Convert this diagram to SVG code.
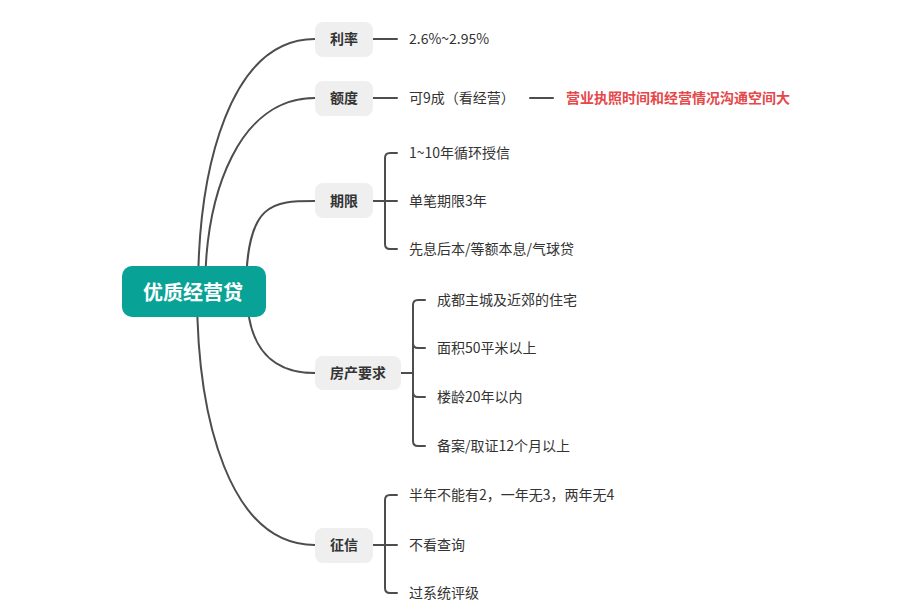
<svg xmlns="http://www.w3.org/2000/svg" width="902" height="612" viewBox="0 0 902 612">
  <style>
    .ln { fill: none; stroke: #4d4d4d; stroke-width: 2; stroke-linecap: round; }
    .br { fill: #efefef; }
    .bt { font-family: "Noto Sans CJK SC", "Liberation Sans", sans-serif; font-size: 14px; font-weight: bold; fill: #333333; text-anchor: middle; }
    .ct { font-family: "Noto Sans CJK SC", "Liberation Sans", sans-serif; font-size: 14px; fill: #333333; }
    .red { font-family: "Noto Sans CJK SC", "Liberation Sans", sans-serif; font-size: 14px; font-weight: bold; fill: #e5484a; }
    .rt { font-family: "Noto Sans CJK SC", "Liberation Sans", sans-serif; font-size: 20px; font-weight: bold; fill: #ffffff; text-anchor: middle; }
  </style>
  <rect width="902" height="612" fill="#ffffff"/>
  <g id="connectors">
    <path class="ln" d="M198,292 C198,165 231,39 315,39"/>
    <path class="ln" d="M205,292 C205,190 240,98 315,98"/>
    <path class="ln" d="M246,292 C246,201 273,201 315,201"/>
    <path class="ln" d="M247,292 C247,335 262,373 315,373"/>
    <path class="ln" d="M197,292 C197,420 230,545 315,545"/>
    <path class="ln" d="M373,39 L397,39"/>
    <path class="ln" d="M373,98 L397,98"/>
    <path class="ln" d="M530,98 L553,98"/>
    <path class="ln" d="M373,201 L397,201 M397,153 L390,153 Q385,153 385,158 L385,244 Q385,249 390,249 L397,249"/>
    <path class="ln" d="M401,373 L413,373 M425,300 L418,300 Q413,300 413,305 L413,441 Q413,446 418,446 L425,446 M413,343 Q413,348 418,348 L425,348 M413,392 Q413,397 418,397 L425,397"/>
    <path class="ln" d="M373,545 L397,545 M397,495 L390,495 Q385,495 385,500 L385,588 Q385,593 390,593 L397,593"/>
  </g>
  <g id="root">
    <rect x="122" y="266" width="144" height="51" rx="10" fill="#08a396"/>
    <text class="rt" x="193" y="300">优质经营贷</text>
  </g>
  <g id="node-lilv">
    <rect class="br" x="315" y="22" width="58" height="35" rx="8"/>
    <text class="bt" x="344" y="44">利率</text>
    <text class="ct" x="409" y="44">2.6%~2.95%</text>
  </g>
  <g id="node-edu">
    <rect class="br" x="315" y="81" width="58" height="35" rx="8"/>
    <text class="bt" x="344" y="103">额度</text>
    <text class="ct" x="409" y="103">可9成（看经营）</text>
    <text class="red" x="566" y="103">营业执照时间和经营情况沟通空间大</text>
  </g>
  <g id="node-qixian">
    <rect class="br" x="315" y="183" width="58" height="35" rx="8"/>
    <text class="bt" x="344" y="206">期限</text>
    <text class="ct" x="409" y="158">1~10年循环授信</text>
    <text class="ct" x="409" y="206">单笔期限3年</text>
    <text class="ct" x="409" y="254">先息后本/等额本息/气球贷</text>
  </g>
  <g id="node-fangchan">
    <rect class="br" x="315" y="356" width="86" height="34" rx="8"/>
    <text class="bt" x="358" y="378">房产要求</text>
    <text class="ct" x="437" y="305">成都主城及近郊的住宅</text>
    <text class="ct" x="437" y="353">面积50平米以上</text>
    <text class="ct" x="437" y="402">楼龄20年以内</text>
    <text class="ct" x="437" y="451">备案/取证12个月以上</text>
  </g>
  <g id="node-zhengxin">
    <rect class="br" x="315" y="528" width="58" height="35" rx="8"/>
    <text class="bt" x="344" y="550">征信</text>
    <text class="ct" x="409" y="500">半年不能有2，一年无3，两年无4</text>
    <text class="ct" x="409" y="550">不看查询</text>
    <text class="ct" x="409" y="598">过系统评级</text>
  </g>
</svg>
